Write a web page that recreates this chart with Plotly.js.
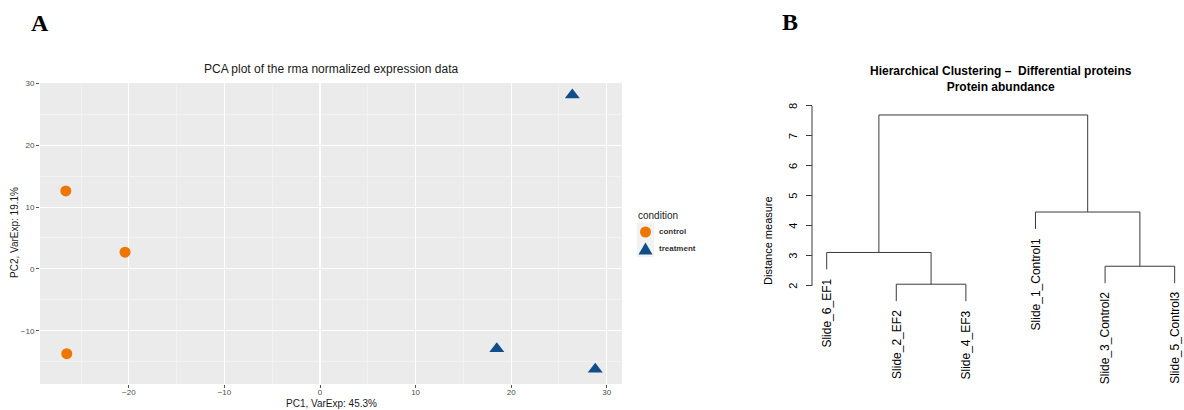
<!DOCTYPE html>
<html><head><meta charset="utf-8">
<script src="https://cdn.plot.ly/plotly-3.0.1.min.js"></script>
<style>html,body{margin:0;padding:0;background:#fff;}#chart{width:1184px;height:410px;}</style>
</head><body><div id="chart"></div>
<script>
// ---- Panel A: PCA data ----
const conditions = ["control", "treatment"];
const controlPC1 = [-26.6, -20.4, -26.5];
const controlPC2 = [12.6, 2.7, -13.7];
const treatmentPC1 = [26.4, 18.5, 28.8];
const treatmentPC2 = [28.1, -12.9, -16.2];
const pcaTitle = "PCA plot of the rma normalized expression data";
const pc1Label = "PC1, VarExp: 45.3%";
const pc2Label = "PC2, VarExp: 19.1%";
const pcaXTicks = [-20, -10, 0, 10, 20, 30];
const pcaYTicks = [-10, 0, 10, 20, 30];
const legendTitle = "condition";

// ---- Panel B: dendrogram data ----
const leafLabels = ["Slide_6_EF1", "Slide_2_EF2", "Slide_4_EF3", "Slide_1_Control1", "Slide_3_Control2", "Slide_5_Control3"];
const mergeLeft = [-2, -5, -1, -4, 3];
const mergeRight = [-3, -6, 1, 2, 4];
const mergeHeights = [2.05, 2.65, 3.11, 4.46, 7.70];
const distTicks = [2, 3, 4, 5, 6, 7, 8];
const dendroTitle = "Hierarchical Clustering \u2013\u00a0 Differential proteins<br>Protein abundance";
const dendroYLabel = "Distance measure";

const W = 1184, H = 410;
const px = x => x / W;
const py = y => 1 - y / H;
const FONT = "Liberation Sans, Arial, Helvetica, sans-serif";
const COL = {control: "#EE7600", treatment: "#104E8B"};

// dendrogram geometry from merge table
const hang = 0.1 * (Math.max(...mergeHeights) - Math.min(...mergeHeights));
const nodeX = [], leafEnd = new Array(leafLabels.length);
const dx = [], dy = [];
function childInfo(c, h) {
  if (c < 0) { const i = -c - 1; leafEnd[i] = h - hang; return {x: i + 1, y: h - hang}; }
  return {x: nodeX[c - 1], y: mergeHeights[c - 1]};
}
for (let k = 0; k < mergeHeights.length; k++) {
  const h = mergeHeights[k];
  const L = childInfo(mergeLeft[k], h), R = childInfo(mergeRight[k], h);
  nodeX[k] = (L.x + R.x) / 2;
  dx.push(L.x, L.x, R.x, R.x, null);
  dy.push(L.y, h, h, R.y, null);
}

const traces = [
  {type: "scatter", mode: "markers", name: conditions[0], x: controlPC1, y: controlPC2, xaxis: "x", yaxis: "y",
   marker: {symbol: "circle", size: 11, color: COL.control, line: {width: 0}}, showlegend: false, hoverinfo: "x+y"},
  {type: "scatter", mode: "markers", name: conditions[1], x: treatmentPC1, y: treatmentPC2, xaxis: "x", yaxis: "y",
   marker: {symbol: "triangle-up", size: 13, color: COL.treatment, line: {width: 0}}, showlegend: false, hoverinfo: "x+y"},
  {type: "scatter", mode: "lines", x: dx, y: dy, xaxis: "x2", yaxis: "y2",
   line: {color: "#3a3a3a", width: 1}, showlegend: false, hoverinfo: "skip", connectgaps: false}
];

function pAnn(text, x, y, size, extra) {
  return Object.assign({text: text, xref: "paper", yref: "paper", x: px(x), y: py(y), xanchor: "center", yanchor: "middle",
    showarrow: false, font: {family: FONT, size: size, color: "#1a1a1a"}}, extra || {});
}
const serif = {family: "Liberation Serif, Times New Roman, serif", size: 24, color: "#000"};
const annotations = [
  pAnn("<b>A</b>", 40, 23, 24, {font: serif}),
  pAnn("<b>B</b>", 790, 22, 24, {font: serif}),
  pAnn(pcaTitle, 331, 69, 12),
  pAnn(pc1Label, 331, 403, 10),
  pAnn(pc2Label, 15, 233, 10, {textangle: -90}),
  pAnn(legendTitle, 636, 215, 10, {xanchor: "left"}),
  pAnn(conditions[0], 657, 232, 8, {xanchor: "left", font: {family: FONT, size: 8, color: "#333", weight: "bold"}}),
  pAnn(conditions[1], 657, 248.5, 8, {xanchor: "left", font: {family: FONT, size: 8, color: "#333", weight: "bold"}}),
  pAnn("<b>" + dendroTitle.replace("<br>", "</b><br><b>") + "</b>", 1001, 79, 12, {font: {family: FONT, size: 12, color: "#000"}}),
  pAnn(dendroYLabel, 768, 241, 11, {textangle: -90, font: {family: FONT, size: 11, color: "#000"}})
];
leafLabels.forEach((lab, i) => {
  annotations.push({text: lab, xref: "x2", yref: "y2", x: i + 1, y: leafEnd[i], xanchor: "center", yanchor: "top",
    yshift: -7, textangle: -90, showarrow: false, font: {family: FONT, size: 12, color: "#000"}});
});
// rotated tick labels of the distance axis (R base style, parallel to the axis)
distTicks.forEach(v => {
  annotations.push({text: String(v), xref: "paper", yref: "y2", x: px(793), y: v, xanchor: "center", yanchor: "middle",
    textangle: -90, showarrow: false, font: {family: FONT, size: 11, color: "#000"}});
});

const shapes = [
  {type: "rect", xref: "x domain", yref: "y domain", x0: 0, x1: 1, y0: 0, y1: 1, fillcolor: "#EBEBEB", line: {width: 0}, layer: "below"},
  {type: "rect", xref: "paper", yref: "paper", x0: px(637), x1: px(654), y0: py(223), y1: py(240), fillcolor: "#F2F2F2", line: {width: 0}},
  {type: "rect", xref: "paper", yref: "paper", x0: px(637), x1: px(654), y0: py(240), y1: py(257), fillcolor: "#F2F2F2", line: {width: 0}},
  {type: "circle", xref: "paper", yref: "paper", x0: px(640), x1: px(651), y0: py(226.5), y1: py(237.5), fillcolor: COL.control, line: {width: 0}},
  {type: "path", xref: "paper", yref: "paper",
   path: `M ${px(638.5)} ${py(254.5)} L ${px(652.5)} ${py(254.5)} L ${px(645.5)} ${py(242.5)} Z`, fillcolor: COL.treatment, line: {width: 0}},
  {type: "line", xref: "paper", yref: "y2", x0: px(812), x1: px(812), y0: distTicks[0], y1: distTicks[distTicks.length - 1], line: {color: "#3a3a3a", width: 1}}
];

const layout = {
  width: W, height: H, margin: {l: 0, r: 0, t: 0, b: 0},
  paper_bgcolor: "#fff", plot_bgcolor: "rgba(0,0,0,0)", showlegend: false,
  font: {family: FONT},
  xaxis: {domain: [px(40), px(622)], range: [-29.3, 31.6], anchor: "y", tickvals: pcaXTicks,
    ticks: "outside", ticklen: 3, tickwidth: 1, tickcolor: "#555", tickfont: {size: 8, color: "#4D4D4D"},
    ticklabelstandoff: -3,
    showgrid: true, gridcolor: "#FFFFFF", gridwidth: 1.1, zeroline: false, showline: false,
    minor: {dtick: 5, tick0: 0, showgrid: true, gridcolor: "#F6F6F6", gridwidth: 0.6, ticks: ""}},
  yaxis: {domain: [py(384), py(83)], range: [-18.6, 30.05], anchor: "x", tickvals: pcaYTicks,
    ticks: "outside", ticklen: 3, tickwidth: 1, tickcolor: "#555", tickfont: {size: 8, color: "#4D4D4D"},
    showgrid: true, gridcolor: "#FFFFFF", gridwidth: 1.1, zeroline: false, showline: false,
    minor: {dtick: 5, tick0: 0, showgrid: true, gridcolor: "#F6F6F6", gridwidth: 0.6, ticks: ""}},
  xaxis2: {domain: [px(812), 1], range: [0.789, 6.134], anchor: "y2", visible: false, showgrid: false, zeroline: false},
  yaxis2: {domain: [py(310), py(90)], range: [1.189, 8.534], anchor: "free", position: px(812), side: "left",
    tickvals: distTicks, ticks: "outside", ticklen: 6, tickwidth: 1, tickcolor: "#3a3a3a",
    showticklabels: false, showgrid: false, zeroline: false, showline: false},
  annotations: annotations, shapes: shapes
};

Plotly.newPlot("chart", traces, layout, {displayModeBar: false, staticPlot: true});
</script>
</body></html>
